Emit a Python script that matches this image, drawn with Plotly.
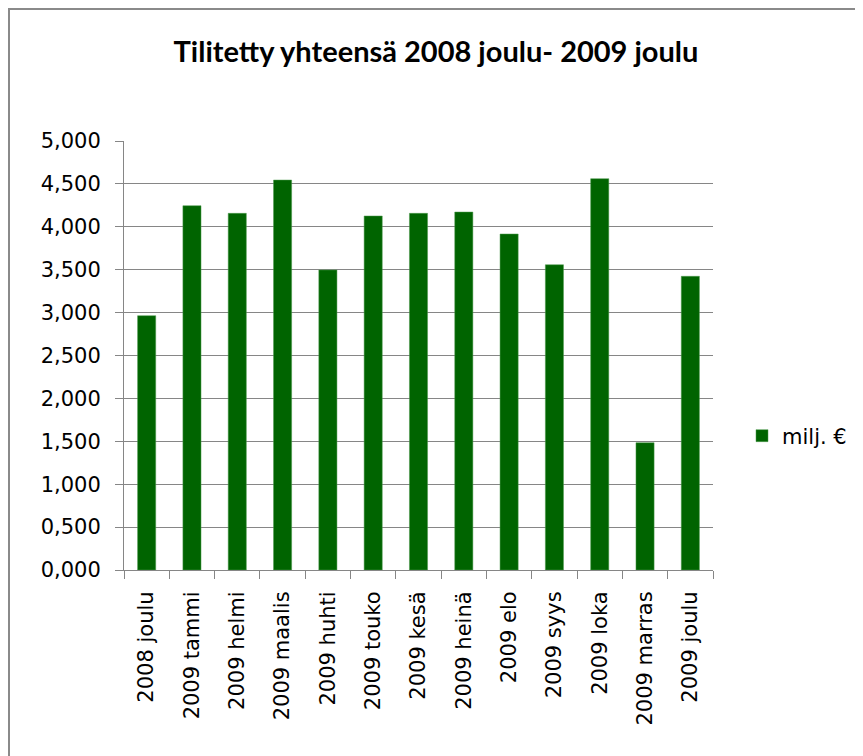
import plotly.graph_objects as go

categories = ["2008 joulu", "2009 tammi", "2009 helmi", "2009 maalis", "2009 huhti",
              "2009 touko", "2009 kesä", "2009 heinä", "2009 elo", "2009 syys",
              "2009 loka", "2009 marras", "2009 joulu"]
values = [2.964, 4.246, 4.157, 4.545, 3.497, 4.126, 4.157, 4.172, 3.916, 3.558,
          4.561, 1.484, 3.423]
series_name = "milj. €"
title_text = "Tilitetty yhteensä 2008 joulu- 2009 joulu"
y_ticks = [0, 0.5, 1, 1.5, 2, 2.5, 3, 3.5, 4, 4.5, 5]

W, H = 863, 756
OFF = 8  # page body margin
# plot area in screen pixels
SL, SR, ST, SB = 124, 713, 141, 570
L, R, T, B = SL - OFF, SR - OFF, ST - OFF, SB - OFF

fig = go.Figure()
fig.add_trace(go.Bar(
    x=categories, y=values, name=series_name,
    marker=dict(color="#006400", line=dict(color="#4f9a4f", width=0.5)),
    showlegend=True,
))

def px(xs):
    return (xs - OFF - L) / (R - L)

def py(ys):
    return (B - (ys - OFF)) / (B - T)

axis_font = dict(family="DejaVu Sans", size=21, color="black")

fig.update_layout(
    width=W, height=H,
    margin=dict(l=L, r=W - R, t=T, b=H - B),
    paper_bgcolor="white", plot_bgcolor="white",
    separators=", ",
    bargap=0.6,
    title=dict(text=title_text, x=(436 - OFF) / W, xanchor="center",
               y=1 - (52 - OFF) / H, yanchor="middle",
               font=dict(family="Lato", size=29, color="black", weight="bold")),
    legend=dict(x=px(742), xanchor="left", y=py(436), yanchor="middle",
                font=axis_font, bgcolor="rgba(0,0,0,0)", itemwidth=30),
    xaxis=dict(type="category", showline=True, linecolor="#868686", linewidth=1,
               ticks="outside", tickson="boundaries", ticklen=8, tickcolor="#868686",
               tickangle=-90, showgrid=False, ticklabelstandoff=12,
               tickfont=axis_font),
    yaxis=dict(range=[0, 5], tickvals=y_ticks, tickformat=".3f",
               showline=True, linecolor="#868686", linewidth=1,
               ticks="outside", ticklen=8, tickcolor="#868686", ticklabelstandoff=10,
               showgrid=True, gridcolor="#868686", gridwidth=1, zeroline=False,
               tickfont=axis_font),
    shapes=[dict(type="rect", xref="paper", yref="paper",
                 x0=px(9), x1=px(W + 20), y0=py(H + 20), y1=py(9),
                 line=dict(color="#8a8a8a", width=2), fillcolor="rgba(0,0,0,0)",
                 layer="below")],
)

fig.write_html("out.html")
